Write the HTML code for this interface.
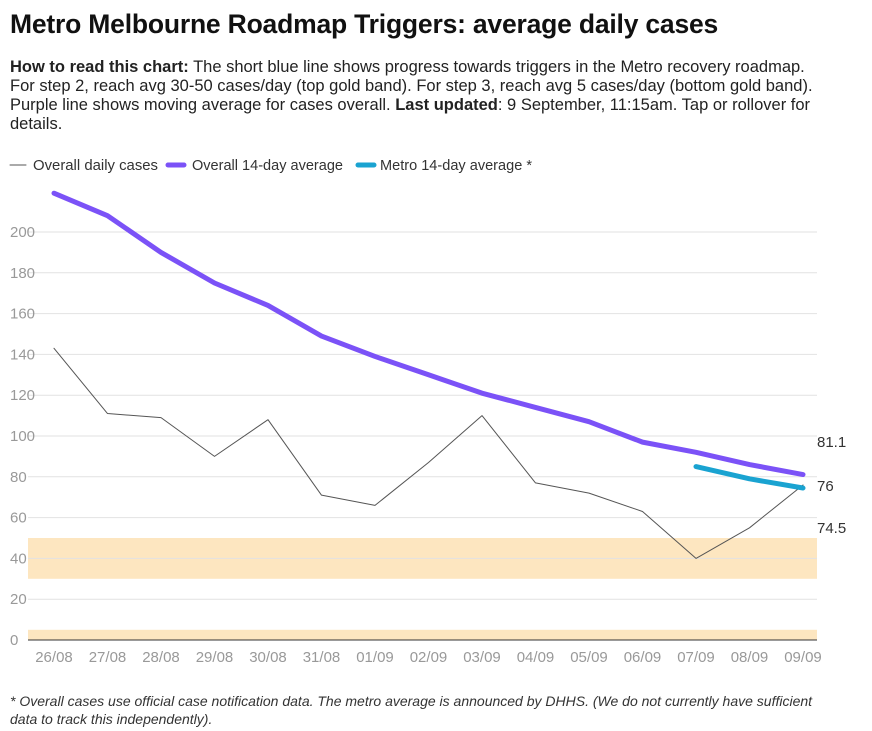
<!DOCTYPE html>
<html><head><meta charset="utf-8"><style>
body{margin:0;width:872px;height:731px;background:#fff;font-family:"Liberation Sans",sans-serif;overflow:hidden;position:relative}
h1{position:absolute;left:10px;top:9px;margin:0;font-size:26.5px;font-weight:bold;color:#111;letter-spacing:-0.2px;white-space:nowrap}
.desc{position:absolute;left:10px;top:58px;width:860px;font-size:16.5px;line-height:19px;color:#222;white-space:nowrap}
.foot{position:absolute;left:10px;top:692px;width:860px;font-size:14px;line-height:18px;color:#333;font-style:italic;white-space:nowrap}
svg{position:absolute;left:0;top:0}
</style></head><body>
<h1>Metro Melbourne Roadmap Triggers: average daily cases</h1>
<div class="desc"><b>How to read this chart:</b> The short blue line shows progress towards triggers in the Metro recovery roadmap.<br>For step 2, reach avg 30-50 cases/day (top gold band). For step 3, reach avg 5 cases/day (bottom gold band).<br>Purple line shows moving average for cases overall. <b>Last updated</b>: 9 September, 11:15am. Tap or rollover for<br>details.</div>
<svg id="chart" width="872" height="690"></svg>
<div class="foot">* Overall cases use official case notification data. The metro average is announced by DHHS. (We do not currently have sufficient<br>data to track this independently).</div>
<script>
const categories=["26/08","27/08","28/08","29/08","30/08","31/08","01/09","02/09","03/09","04/09","05/09","06/09","07/09","08/09","09/09"];
const dailyCases=[143,111,109,90,108,71,66,87,110,77,72,63,40,55,76];
const overallAvg=[219,208,190,175,164,149,139,130,121,114,107,97,92,86,81.1];
const metroAvg=[null,null,null,null,null,null,null,null,null,null,null,null,85,79,74.5];
const yTicks=[0,20,40,60,80,100,120,140,160,180,200];
const bands=[[30,50],[0,5]];
const NS="http://www.w3.org/2000/svg";
const svg=document.getElementById('chart');
const x=i=>54+i*(803-54)/(categories.length-1);
const y=v=>640-v*(640-232)/200;
function mk(t,a,p){const e=document.createElementNS(NS,t);for(const k in a)e.setAttribute(k,a[k]);(p||svg).appendChild(e);return e;}
bands.forEach(b=>{const r=mk('rect',{x:28,y:y(b[1]),width:789,height:y(b[0])-y(b[1]),fill:'#fde6c0'});

});
yTicks.forEach(t=>{const l=mk('line',{x1:28,x2:817,y1:y(t),y2:y(t),stroke:t===0?'#333':'#e2e2e2','stroke-width':1});


const tx=mk('text',{x:10,y:y(t)+5,'font-size':15,fill:'#999'});tx.textContent=t;

});
categories.forEach((c,i)=>{const tx=mk('text',{x:x(i),y:662,'font-size':15,fill:'#999','text-anchor':'middle'});tx.textContent=c;

});
function line(arr,color,w,name){let d='';arr.forEach((v,i)=>{if(v==null)return;d+=(d?'L':'M')+x(i)+','+y(v);});
const p=mk('path',{d:d,fill:'none',stroke:color,'stroke-width':w,'stroke-linecap':'round','stroke-linejoin':'round'});

}
line(dailyCases,'#555',1,'daily-cases-line');
line(overallAvg,'#7b52f7',5,'overall-average-line');
line(metroAvg,'#1aa3d1',5,'metro-average-line');
const last=categories.length-1;
[[overallAvg[last],447],[dailyCases[last],491],[metroAvg[last],533]].forEach(([v,py])=>{const tx=mk('text',{x:817,y:py,'font-size':15,fill:'#333'});tx.textContent=v;

});
const lg=[['Overall daily cases','#555',1,10,33,125],['Overall 14-day average','#7b52f7',5,168,192,151],['Metro 14-day average *','#1aa3d1',5,358,380,152]];
lg.forEach(([t,c,w,lx,tx0,tl])=>{const l=mk('line',{x1:lx,x2:lx+16,y1:165,y2:165,stroke:c,'stroke-width':w,'stroke-linecap':'round'});


const tx=mk('text',{x:tx0,y:170,'font-size':14.5,fill:'#333',textLength:tl,lengthAdjust:'spacingAndGlyphs'});tx.textContent=t;

});
</script>
</body></html>
